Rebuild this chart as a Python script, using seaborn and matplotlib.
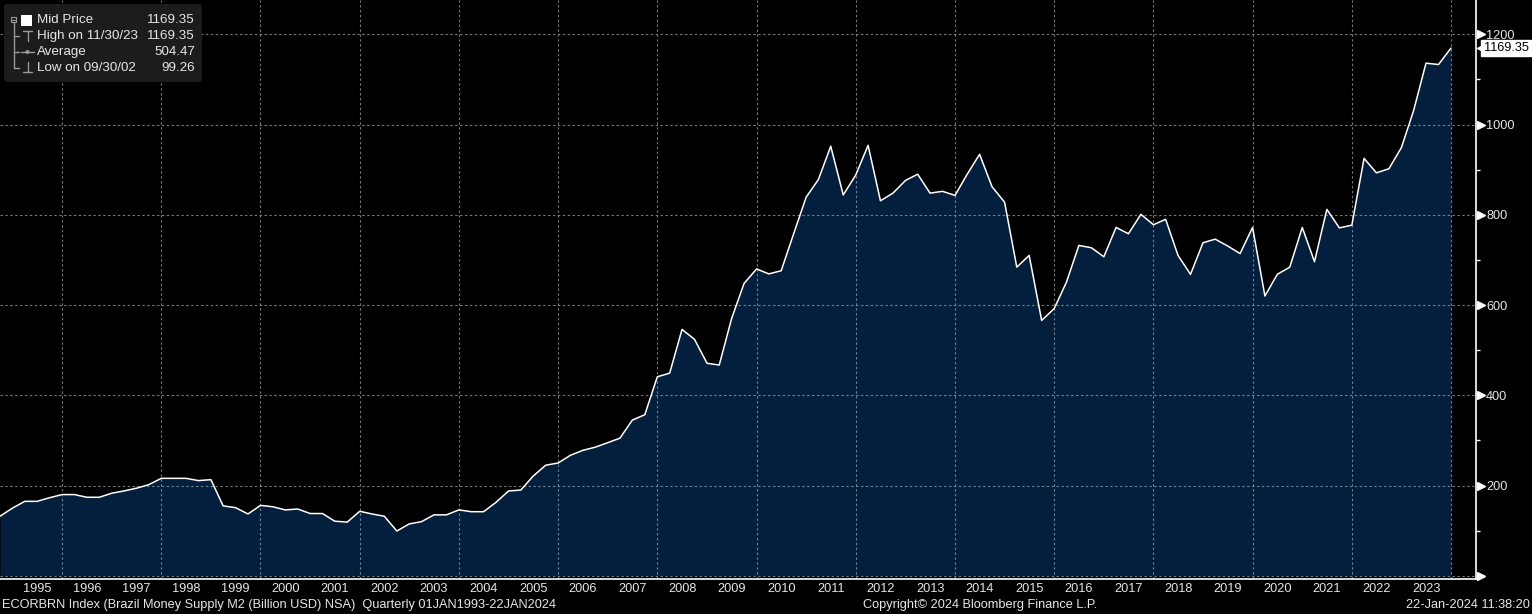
import numpy as np
import pandas as pd
import matplotlib
matplotlib.use("Agg")
import matplotlib.pyplot as plt
import matplotlib.dates as mdates
import matplotlib.ticker as mticker
import matplotlib.transforms as mtransforms
from matplotlib.patches import FancyBboxPatch, Rectangle, Circle
from matplotlib.lines import Line2D
import seaborn as sns

# Brazil M2 money supply (billion USD), quarterly, first quarter shown 1994Q3
first_quarter = "1994Q3"
m2_values = [
    132, 150, 165, 165, 173, 180, 180, 174, 174, 183,
    188, 194, 202, 216, 216, 216, 211, 213, 155, 151,
    137, 156, 153, 146, 148, 138, 138, 121, 119, 143,
    137, 132, 99.26, 115, 120, 135, 135, 146, 142, 142,
    163, 188, 190, 221, 245, 250, 267, 278, 285, 295,
    305, 345, 357, 441, 449, 546, 524, 471, 467, 570,
    648, 680, 669, 676, 758, 839, 878, 952, 844, 888,
    954, 831, 848, 876, 890, 848, 852, 843, 890, 934,
    862, 828, 684, 710, 566, 592, 651, 732, 727, 707,
    772, 758, 801, 778, 790, 710, 668, 738, 746, 731,
    714, 772, 620, 668, 684, 772, 696, 812, 771, 777,
    925, 893, 902, 949, 1031, 1136, 1133, 1169.35,
]
label_years = list(range(1995, 2024))
y_ticks = [0, 200, 400, 600, 800, 1000, 1200]
legend_rows = [
    ("Mid Price", "1169.35"),
    ("High on 11/30/23", "1169.35"),
    ("Average", "504.47"),
    ("Low on 09/30/02", "99.26"),
]
footer_left = "ECORBRN Index (Brazil Money Supply M2 (Billion USD) NSA)  Quarterly 01JAN1993-22JAN2024"
footer_mid = "Copyright\u00a9 2024 Bloomberg Finance L.P."
footer_right = "22-Jan-2024 11:38:20"

quarters = pd.period_range(first_quarter, periods=len(m2_values), freq="Q")
df = pd.DataFrame({"date": quarters.end_time.normalize() + pd.Timedelta(days=1), "m2": m2_values})

sns.set_theme(style="dark")
plt.rcParams["font.family"] = ["Liberation Sans", "DejaVu Sans"]

W, H = 1532, 614
TXT = "#e6e6e6"
FILL = "#031f3d"
GRID = "#8c96a0"
FS = 9.2

fig = plt.figure(figsize=(W / 100, H / 100), dpi=100, facecolor="black")
ax = fig.add_axes([0, 35.5 / H, 1475.7 / W, 578.5 / H])
ax.set_facecolor("black")

ax.fill_between(df["date"], df["m2"], 0, color=FILL, lw=0, zorder=1)
sns.lineplot(data=df, x="date", y="m2", ax=ax, color="white", lw=1.1, zorder=3)

ax.set_xlim(pd.Timestamp("1994-10-01"), pd.Timestamp("2024-07-01"))
ax.set_ylim(-6, 1276)
ax.set_xlabel("")
ax.set_ylabel("")

# grid
ax.set_axisbelow(False)
ax.yaxis.grid(True, ls=(0, (2.2, 2.2)), color=GRID, lw=0.8, alpha=0.8)
ax.xaxis.grid(False)
for yr in range(1996, 2025, 2):
    ax.axvline(pd.Timestamp(f"{yr}-01-01"), ls=(0, (2.2, 2.2)), color=GRID, lw=0.8, alpha=0.8, zorder=2.5)

# x axis: separators at year starts, labels centred in each year
year_starts = [mdates.date2num(pd.Timestamp(f"{y}-01-01")) for y in range(1995, 2025)]
mid_years = [mdates.date2num(pd.Timestamp(f"{y}-07-02")) for y in label_years]
ax.xaxis.set_major_locator(mticker.FixedLocator(year_starts))
ax.xaxis.set_major_formatter(mticker.NullFormatter())
ax.xaxis.set_minor_locator(mticker.FixedLocator(mid_years))
ax.xaxis.set_minor_formatter(mdates.DateFormatter("%Y"))
ax.tick_params(axis="x", which="major", length=13, width=0.9, color="#bdbdbd", direction="out")
ax.tick_params(axis="x", which="minor", length=0, pad=3, labelsize=FS, labelcolor=TXT)

# y axis on the right
ax.yaxis.tick_right()
ax.set_yticks(y_ticks)
ax.yaxis.set_major_formatter(mticker.FuncFormatter(lambda v, p: "" if v == 0 else f"{v:.0f}"))
ax.yaxis.set_minor_locator(mticker.FixedLocator([v + 100 for v in y_ticks[:-1]]))
ax.tick_params(axis="y", which="major", length=0, pad=7.5, labelsize=FS, labelcolor=TXT)
ax.tick_params(axis="y", which="minor", length=3, width=1, color="white", direction="out")

for side in ["top", "left"]:
    ax.spines[side].set_visible(False)
for side in ["bottom", "right"]:
    ax.spines[side].set_visible(True)
    ax.spines[side].set_color("white")
    ax.spines[side].set_linewidth(1.2)

ytrans = mtransforms.blended_transform_factory(ax.transAxes, ax.transData)
tri_trans = mtransforms.offset_copy(ytrans, fig=fig, x=5, y=0, units="dots")
for v in y_ticks:
    ax.plot([1.0], [v], marker=">", ms=6, color="white", mec="white",
            transform=tri_trans, clip_on=False, zorder=5)

# last value tag
last = df["m2"].iloc[-1]
tag_arrow = mtransforms.offset_copy(ytrans, fig=fig, x=5, y=0, units="dots")
ax.plot([1.0], [last], marker="<", ms=6, color="white", transform=tag_arrow, clip_on=False, zorder=6)
tag_trans = mtransforms.offset_copy(ytrans, fig=fig, x=8, y=0, units="dots")
ax.text(1.0, last, f"{last:.2f}", transform=tag_trans, ha="left", va="center", fontsize=FS,
        color="black", bbox=dict(boxstyle="square,pad=0.18", fc="white", ec="white"),
        clip_on=False, zorder=6)

# legend panel (pixel coords converted to inches)
def px(x, y):
    return x / 100, (H - y) / 100

inch = fig.dpi_scale_trans
x0, y0 = px(4, 82)
fig.patches.append(FancyBboxPatch((x0, y0), 198 / 100, 78 / 100,
                                  boxstyle="round,pad=0,rounding_size=0.03",
                                  fc="#1c1c1c", ec="none", transform=inch, zorder=10))
row_y = [20, 36, 52, 68]
icon = "#9a9a9a"

def seg(xa, ya, xb, yb, lw=1.0, color=icon):
    (a, b), (c, d) = px(xa, ya), px(xb, yb)
    fig.lines.append(Line2D([a, c], [b, d], transform=inch, color=color, lw=lw, zorder=11))

# tree: collapse box and connecting lines
bx, by = px(11, 22)
fig.patches.append(Rectangle((bx, by), 0.05, 0.05, fc="none", ec=icon, lw=0.8, transform=inch, zorder=11))
seg(12, 19.5, 15, 19.5, lw=0.8)
seg(13.5, 22, 13.5, row_y[3])
for ry in row_y[1:]:
    seg(13.5, ry, 19, ry)
# mid price square
sx, sy = px(21, 26)
fig.patches.append(Rectangle((sx, sy), 0.11, 0.11, fc="white", ec="none", transform=inch, zorder=11))
# high icon
seg(23, 31, 32, 31)
seg(27.5, 31, 27.5, 41)
# average icon
seg(21, 52, 34, 52)
cx, cy = px(27.5, 52)
fig.patches.append(Circle((cx, cy), 0.02, fc=icon, ec="none", transform=inch, zorder=11))
# low icon
seg(27.5, 62, 27.5, 72)
seg(23, 72, 32, 72)

for (name, val), ry in zip(legend_rows, row_y):
    tx, ty = px(37, ry)
    fig.text(tx, ty, name, transform=inch, ha="left", va="center", fontsize=9.6, color=TXT, zorder=12)
    vx, _ = px(195, ry)
    fig.text(vx, ty, val, transform=inch, ha="right", va="center", fontsize=9.6, color=TXT, zorder=12)

# footer
fy = 1 - 605 / H
fig.text(2 / W, fy, footer_left, ha="left", va="center", fontsize=FS, color=TXT)
fig.text(980 / W, fy, footer_mid, ha="center", va="center", fontsize=FS, color=TXT)
fig.text(1530 / W, fy, footer_right, ha="right", va="center", fontsize=FS, color=TXT)

fig.savefig("out.png", dpi=100, facecolor="black")
